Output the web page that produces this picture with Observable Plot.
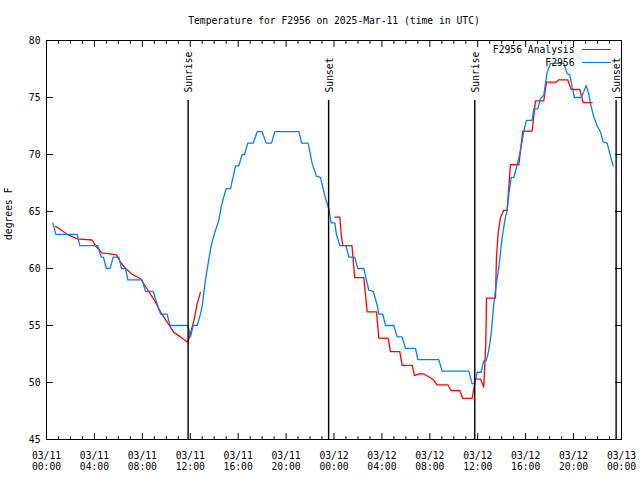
<!DOCTYPE html>
<html><head><meta charset="utf-8">
<script src="https://cdn.jsdelivr.net/npm/d3@7"></script>
<script src="https://cdn.jsdelivr.net/npm/@observablehq/plot@0.6"></script>
<style>body{margin:0;background:#fff} svg{display:block}</style>
</head><body><div id="chart"></div>
<script>
const title = "Temperature for F2956 on 2025-Mar-11 (time in UTC)";
const yLabel = "degrees F";
const seriesNames = ["F2956 Analysis", "F2956"];
const seriesColors = ["#ff0000", "#0080ff"];
const startTime = "2025-03-11T00:00:00Z";
const endTime = "2025-03-13T00:00:00Z";
const yTicks = [45, 50, 55, 60, 65, 70, 75, 80];
const xMajorHours = [0, 4, 8, 12, 16, 20, 24, 28, 32, 36, 40, 44, 48];
const eventNames = ["Sunrise", "Sunset", "Sunrise", "Sunset"];
const eventHours = [11.82, 23.55, 35.75, 47.55];

// F2956 observations: hours since 03/11 00:00 UTC, degrees F
const obsHours = [0.53,0.78,2.56,2.78,4.28,4.57,4.75,5.0,5.3,5.57,6.04,6.26,6.6,6.79,7.99,8.26,8.9,9.2,9.52,10.07,10.3,11.8,12.02,12.24,12.58,12.85,13.0,13.27,13.5,13.75,14.0,14.38,14.6,14.94,15.0,15.36,15.78,16.05,16.33,16.53,16.8,17.25,17.59,18.0,18.34,18.78,19.06,21.06,21.3,21.84,22.18,22.54,22.87,23.2,23.57,23.76,24.07,24.2,24.49,25.0,25.24,25.73,25.99,26.49,26.9,27.27,27.6,27.74,28.07,28.3,28.99,29.27,29.69,29.97,30.8,31.0,32.75,33.03,35.25,35.53,35.73,35.95,36.28,36.5,36.7,36.92,37.12,37.34,37.53,37.76,38.04,38.31,38.45,38.59,38.79,39.02,39.29,39.51,39.71,39.85,40.07,40.54,40.68,41.01,41.24,41.51,41.65,41.79,42.07,43.18,43.46,43.68,43.88,44.07,44.63,44.85,45.05,45.27,45.41,45.69,45.97,46.24,46.47,46.8,47.02,47.3];
const obsTemps = [64.0,63.0,63.0,62.0,62.0,61.0,61.0,60.0,60.0,61.0,61.0,60.0,60.0,59.0,59.0,58.0,58.0,57.0,56.0,56.0,55.0,55.0,54.0,55.0,55.0,56.0,56.75,59.0,60.5,62.0,63.0,64.2,65.5,66.8,67.0,67.0,69.0,69.0,70.0,70.0,71.0,71.0,72.0,72.0,71.0,71.0,72.0,72.0,71.0,71.0,69.2,68.1,68.0,66.5,65.2,64.0,64.0,63.0,62.0,62.0,61.0,61.0,60.0,60.0,58.1,58.0,56.8,56.0,56.0,55.0,55.0,54.0,54.0,53.0,53.0,52.0,52.0,51.0,51.0,49.9,49.9,50.9,50.9,51.9,51.9,52.8,54.3,56.9,58.5,60.1,62.75,64.5,65.1,66.5,68.0,68.0,69.1,70.1,71.2,72.1,73.0,73.0,74.0,74.0,74.9,75.2,76.2,77.2,78.0,78.0,77.1,77.0,75.9,75.0,75.0,75.5,76.05,75.3,74.45,73.3,72.5,72.0,71.1,71.0,70.1,69.0];

// F2956 Analysis, first segment
const anaHours1 = [0.75,1.73,2.56,3.81,4.09,4.65,5.2,5.84,6.18,6.6,7.15,7.85,8.4,8.96,9.52,10.07,10.63,11.19,11.74,11.88,12.3,12.58,12.85];
const anaTemps1 = [63.7,63.0,62.6,62.5,62.0,61.35,61.3,61.2,60.55,60.0,59.5,59.1,58.2,57.3,56.2,55.3,54.4,54.0,53.55,53.8,55.4,56.9,57.9];
// F2956 Analysis, second segment
const anaHours2 = [24.07,24.49,24.6,24.73,25.5,25.73,26.49,26.77,27.55,27.74,28.52,28.71,29.49,29.69,30.53,30.72,31.1,31.5,31.91,32.33,32.6,33.5,33.78,34.5,34.75,35.53,35.81,36.23,36.5,36.67,36.73,37.48,37.56,37.7,37.9,38.17,38.45,38.59,38.73,39.43,39.76,40.54,40.68,40.82,41.51,41.74,42.57,42.76,43.51,43.8,44.52,44.8,45.55];
const anaTemps2 = [64.5,64.5,63.0,62.0,62.0,59.2,59.2,56.2,56.2,53.9,53.9,52.7,52.7,51.5,51.5,50.6,50.75,50.75,50.5,50.2,49.8,49.8,49.3,49.3,48.6,48.6,50.3,50.3,49.6,53.4,57.4,57.4,60.9,63.1,64.5,65.1,65.1,67.1,69.1,69.1,72.05,72.05,73.4,74.7,74.7,76.35,76.35,76.55,76.55,75.7,75.7,74.55,74.55];

const t0 = new Date(startTime).getTime();
const toDate = h => new Date(t0 + h * 3600000);
const t1 = new Date(endTime);

const obs = obsHours.map((h, i) => ({date: toDate(h), temp: obsTemps[i], seg: "obs"}));
const ana = [
  ...anaHours1.map((h, i) => ({date: toDate(h), temp: anaTemps1[i], seg: "a1"})),
  ...anaHours2.map((h, i) => ({date: toDate(h), temp: anaTemps2[i], seg: "a2"}))
];
const events = eventHours.map((h, i) => ({date: toDate(h), name: eventNames[i]}));
const xMajor = xMajorHours.map(toDate);
const xMinor = d3.range(0, 49).filter(h => h % 4 !== 0).map(toDate);
const fmt = d3.utcFormat("%m/%d\n%H:%M");

const font = "DejaVu Sans Mono";
const fs = 9.7;
const tickShape = {draw(ctx, l) { ctx.moveTo(0, 0); ctx.lineTo(0, -l); }};
const tk = (data, opts) => Plot.vector(data, {anchor: "start", shape: tickShape, stroke: "black", strokeWidth: 1, ...opts});

const chart = Plot.plot({
  width: 640, height: 480,
  marginLeft: 46, marginRight: 19, marginTop: 40, marginBottom: 41,
  style: {fontFamily: font, fontSize: fs + "px", background: "#fff", color: "black"},
  x: {type: "utc", domain: [new Date(startTime), t1], axis: null},
  y: {domain: [45, 80], axis: null},
  marks: [
    Plot.line(ana, {x: "date", y: "temp", z: "seg", stroke: seriesColors[0], strokeWidth: 1.3}),
    Plot.line(obs, {x: "date", y: "temp", stroke: seriesColors[1], strokeWidth: 1.3}),
    Plot.ruleX(events, {x: "date", insetTop: 60, stroke: "black", strokeWidth: 1.4}),
    Plot.text(events, {x: "date", frameAnchor: "top", dy: 52, dx: 1, rotate: -90, text: "name", textAnchor: "start", lineAnchor: "middle", fontSize: fs, fill: "black"}),
    Plot.frame({stroke: "black"}),
    tk(xMajor, {x: d => d, y: 45, length: 6, rotate: 0}),
    tk(xMajor, {x: d => d, y: 80, length: 6, rotate: 180}),
    tk(xMinor, {x: d => d, y: 45, length: 3, rotate: 0}),
    tk(xMinor, {x: d => d, y: 80, length: 3, rotate: 180}),
    tk(yTicks, {x: new Date(startTime), y: d => d, length: 6, rotate: 90}),
    tk(yTicks, {x: t1, y: d => d, length: 6, rotate: -90}),
    Plot.text(xMajor, {x: d => d, y: 45, text: d => fmt(d), lineAnchor: "top", dy: 11, lineHeight: 1.2, fontSize: fs, fill: "black"}),
    Plot.text(yTicks, {y: d => d, frameAnchor: "left", dx: -6, text: d => String(d), textAnchor: "end", lineAnchor: "middle", fontSize: fs, fill: "black"}),
    Plot.text([title], {frameAnchor: "top", dy: -20, lineAnchor: "middle", fontSize: fs, fill: "black"}),
    Plot.text([yLabel], {frameAnchor: "left", dx: -38, rotate: -90, lineAnchor: "middle", fontSize: fs, fill: "black"}),
    seriesNames.map((name, i) => [
      Plot.text([name], {frameAnchor: "top-right", dx: -47, dy: 9 + 13 * i, textAnchor: "end", lineAnchor: "middle", fontSize: fs, fill: "black"}),
      Plot.vector([name], {frameAnchor: "top-right", dx: -39, dy: 9 + 13 * i, rotate: 90, length: 28, anchor: "start", shape: tickShape, stroke: seriesColors[i], strokeWidth: 1.2})
    ])
  ]
});
document.getElementById("chart").appendChild(chart);
</script>
</body></html>
